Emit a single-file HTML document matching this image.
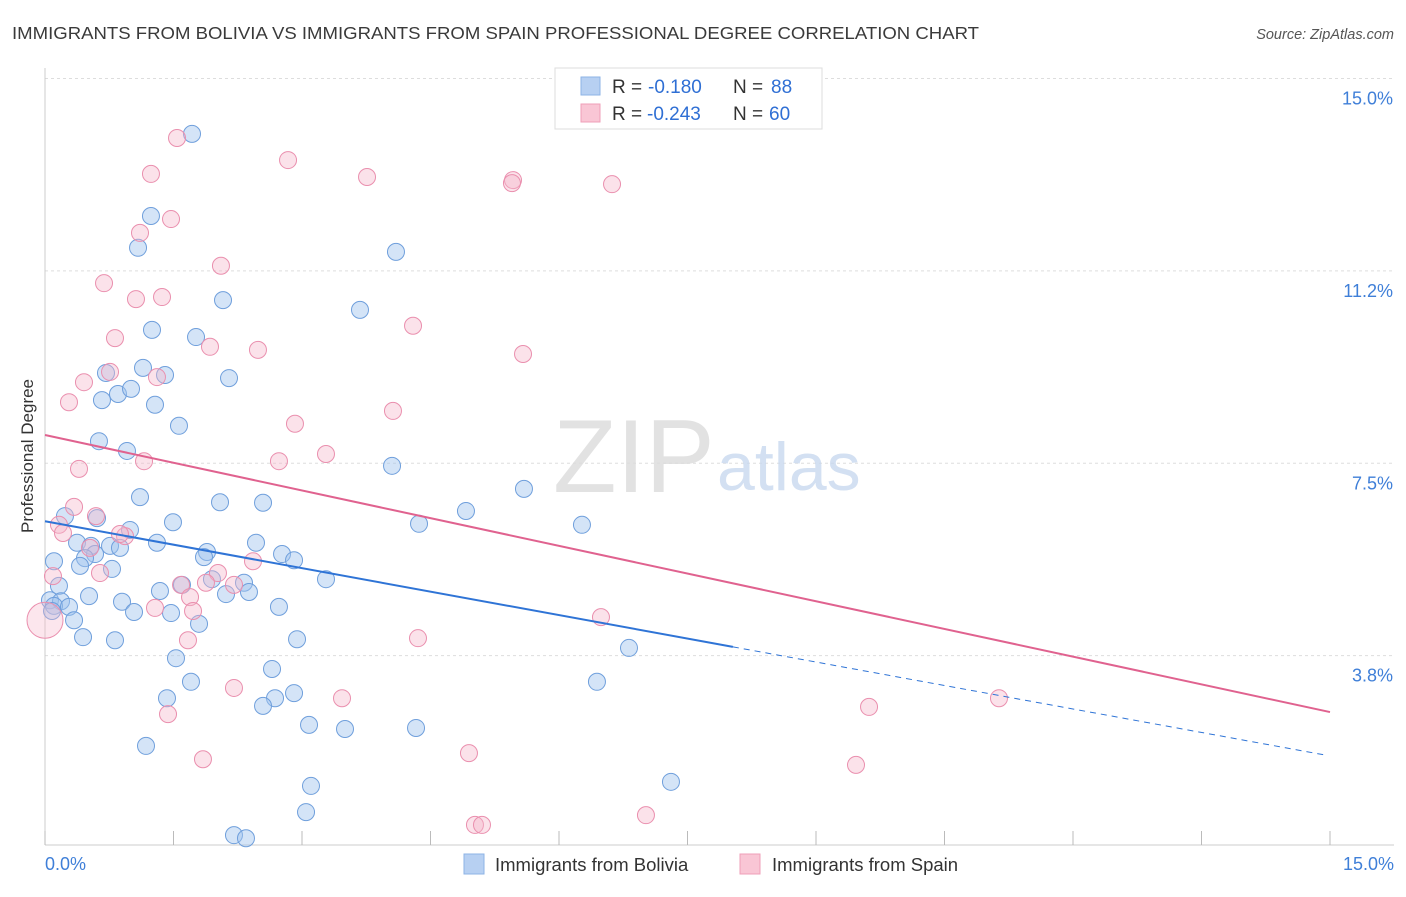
<!DOCTYPE html>
<html><head><meta charset="utf-8"><style>
body{margin:0;background:#fff;font-family:"Liberation Sans",sans-serif;}
svg text{font-family:"Liberation Sans",sans-serif;}
</style></head><body>
<svg id="chart" width="1406" height="892" viewBox="0 0 1406 892" xmlns="http://www.w3.org/2000/svg">
<text x="12" y="39" font-size="17.5" fill="#3a3a3a" textLength="967" lengthAdjust="spacingAndGlyphs">IMMIGRANTS FROM BOLIVIA VS IMMIGRANTS FROM SPAIN PROFESSIONAL DEGREE CORRELATION CHART</text>
<text x="1394" y="39" font-size="14.5" fill="#555" text-anchor="end" font-style="italic">Source: ZipAtlas.com</text>
<g id="grid"></g>
<text x="553" y="492" font-size="104" fill="#dcdcdc" font-family="Liberation Serif" opacity="0.8">ZIP</text>
<text x="717" y="490" font-size="68" fill="#c9d9ef" opacity="0.8">atlas</text>
<g id="axes"></g>
<g id="pts"></g>
<g id="lines"></g>
<text transform="translate(33,456) rotate(-90)" font-size="17" fill="#333" text-anchor="middle">Professional Degree</text>
<g>
<rect x="555" y="68" width="267" height="61" fill="#fff" stroke="#ddd"/>
<rect x="581" y="77" width="19" height="18" fill="#b7d0f2" stroke="#8db3e6"/>
<rect x="581" y="104" width="19" height="18" fill="#f9c6d5" stroke="#ef9fb8"/>
<text x="612" y="93" font-size="19" fill="#333">R =</text>
<text x="648" y="93" font-size="19" fill="#2f6fd4">-0.180</text>
<text x="733" y="93" font-size="19" fill="#333">N =</text>
<text x="771" y="93" font-size="19" fill="#2f6fd4">88</text>
<text x="612" y="120" font-size="19" fill="#333">R =</text>
<text x="647" y="120" font-size="19" fill="#2f6fd4">-0.243</text>
<text x="733" y="120" font-size="19" fill="#333">N =</text>
<text x="769" y="120" font-size="19" fill="#2f6fd4">60</text>
</g>
<g>
<rect x="464" y="854" width="20" height="20" fill="#b7d0f2" stroke="#8db3e6"/>
<text x="495" y="871" font-size="18.5" fill="#333">Immigrants from Bolivia</text>
<rect x="740" y="854" width="20" height="20" fill="#f9c6d5" stroke="#ef9fb8"/>
<text x="772" y="871" font-size="18.5" fill="#333">Immigrants from Spain</text>
</g>
</svg>
<script>
const yTicks=[15.0,11.25,7.5,3.75];
const yTickLabels=["15.0%","11.2%","7.5%","3.8%"];
const xEnds=["0.0%","15.0%"];
const boliviaX=[1.716,1.237,1.086,4.097,2.078,3.677,1.249,1.763,1.144,0.712,1.401,2.148,0.852,1.004,0.665,1.284,1.564,0.630,0.957,1.109,2.043,2.545,5.591,4.051,4.914,4.366,6.268,0.233,0.607,1.494,0.992,0.374,0.537,0.759,0.875,1.307,2.463,1.891,1.856,2.767,2.907,0.105,0.584,0.467,0.782,0.409,3.280,1.949,1.599,2.323,0.163,1.342,2.113,2.381,0.514,0.058,0.187,0.105,0.280,0.899,0.082,2.731,1.471,1.039,0.339,1.798,0.444,0.817,2.942,6.817,1.529,2.650,1.704,6.443,1.424,2.907,2.685,2.545,3.082,3.502,4.331,1.179,7.307,3.105,3.047,2.206,2.346];
const boliviaY=[13.92,12.32,11.70,11.62,10.68,10.49,10.10,9.96,9.36,9.26,9.22,9.16,8.85,8.95,8.73,8.64,8.23,7.93,7.74,6.84,6.74,6.73,7.00,7.45,6.57,6.32,6.30,6.47,6.43,6.35,6.20,5.95,5.89,5.89,5.85,5.95,5.95,5.77,5.67,5.73,5.61,5.59,5.73,5.65,5.44,5.50,5.24,5.24,5.13,5.17,5.11,5.01,4.95,4.99,4.91,4.83,4.81,4.72,4.70,4.80,4.62,4.70,4.58,4.60,4.44,4.37,4.11,4.05,4.07,3.90,3.70,3.49,3.24,3.24,2.92,3.02,2.92,2.77,2.40,2.32,2.34,1.99,1.29,1.21,0.70,0.25,0.19];
const spainX=[1.541,2.837,1.237,3.759,5.463,5.451,6.619,1.471,1.109,2.054,0.689,1.062,1.366,4.296,0.817,1.926,2.486,5.580,0.759,0.455,1.307,0.280,4.062,2.918,1.156,3.280,2.731,0.397,0.339,0.595,0.163,0.210,0.934,0.875,0.525,2.428,0.642,2.019,0.093,2.206,1.588,1.879,1.693,1.284,1.728,6.490,1.669,4.354,2.206,3.467,11.136,9.619,1.436,1.844,4.949,9.467,7.015,5.019,5.101];
const spainY=[13.84,13.41,13.14,13.08,13.02,12.96,12.94,12.26,11.99,11.35,11.01,10.70,10.74,10.18,9.94,9.77,9.71,9.63,9.28,9.08,9.18,8.69,8.52,8.27,7.54,7.68,7.54,7.39,6.65,6.47,6.30,6.14,6.08,6.12,5.85,5.59,5.36,5.36,5.30,5.13,5.13,5.17,4.89,4.68,4.62,4.50,4.05,4.09,3.12,2.92,2.92,2.75,2.61,1.73,1.85,1.62,0.64,0.45,0.45];
const boliviaTrend=[6.37,-0.305];
const spainTrend=[8.05,-0.36];
const boliviaSolidEnd=8.03;

const X=v=>45+v/15*1285;
const Y=v=>848-v*51.3;
const NS="http://www.w3.org/2000/svg";
function mk(parent,tag,attrs){const e=document.createElementNS(NS,tag);for(const k in attrs)e.setAttribute(k,attrs[k]);parent.appendChild(e);return e;}
const grid=document.getElementById('grid'),axes=document.getElementById('axes'),pts=document.getElementById('pts'),lines=document.getElementById('lines');
yTicks.forEach((t,i)=>{
  const l=mk(grid,'line',{x1:45,x2:1394,y1:Y(t),y2:Y(t),stroke:'#ddd','stroke-dasharray':'3,3'});
  
  
  const tx=mk(axes,'text',{x:1393,y:Y(t)+26,'font-size':18,fill:'#3f7fd8','text-anchor':'end'});
  tx.textContent=yTickLabels[i];
  
  
});
const xa=mk(axes,'line',{x1:45,x2:1394,y1:845,y2:845,stroke:'#ccc'});


const ya=mk(axes,'line',{x1:45,x2:45,y1:68,y2:845,stroke:'#ccc'});


for(let i=0;i<=10;i++){
  const t=mk(axes,'line',{x1:X(i*1.5),x2:X(i*1.5),y1:831,y2:845,stroke:'#bbb'});
  
  
}
const xl0=mk(axes,'text',{x:45,y:870,'font-size':18,fill:'#3f7fd8'});xl0.textContent=xEnds[0];


const xl1=mk(axes,'text',{x:1394,y:870,'font-size':18,fill:'#3f7fd8','text-anchor':'end'});xl1.textContent=xEnds[1];



boliviaX.forEach((x,i)=>{
  const c=mk(pts,'circle',{cx:X(x),cy:Y(boliviaY[i]),r:8.5,fill:'rgba(160,195,238,0.45)',stroke:'#6f9fdc','stroke-width':1});
  
  
});
spainX.forEach((x,i)=>{
  const c=mk(pts,'circle',{cx:X(x),cy:Y(spainY[i]),r:8.5,fill:'rgba(246,182,202,0.4)',stroke:'#ea8fae','stroke-width':1});
  
  
});
const big=mk(pts,'circle',{cx:X(0),cy:Y(4.44),r:18,fill:'rgba(246,182,202,0.35)',stroke:'#ea8fae'});



const bt=x=>boliviaTrend[0]+boliviaTrend[1]*x, st=x=>spainTrend[0]+spainTrend[1]*x;
const b1=mk(lines,'line',{x1:X(0),y1:Y(bt(0)),x2:X(boliviaSolidEnd),y2:Y(bt(boliviaSolidEnd)),stroke:'#2f74d6','stroke-width':2});


const b2=mk(lines,'line',{x1:X(boliviaSolidEnd),y1:Y(bt(boliviaSolidEnd)),x2:X(14.94),y2:Y(bt(14.94)),stroke:'#2f74d6','stroke-width':1,'stroke-dasharray':'6,5'});


const s1=mk(lines,'line',{x1:X(0),y1:Y(st(0)),x2:X(15),y2:Y(st(15)),stroke:'#e0628f','stroke-width':2});


</script>
</body></html>
